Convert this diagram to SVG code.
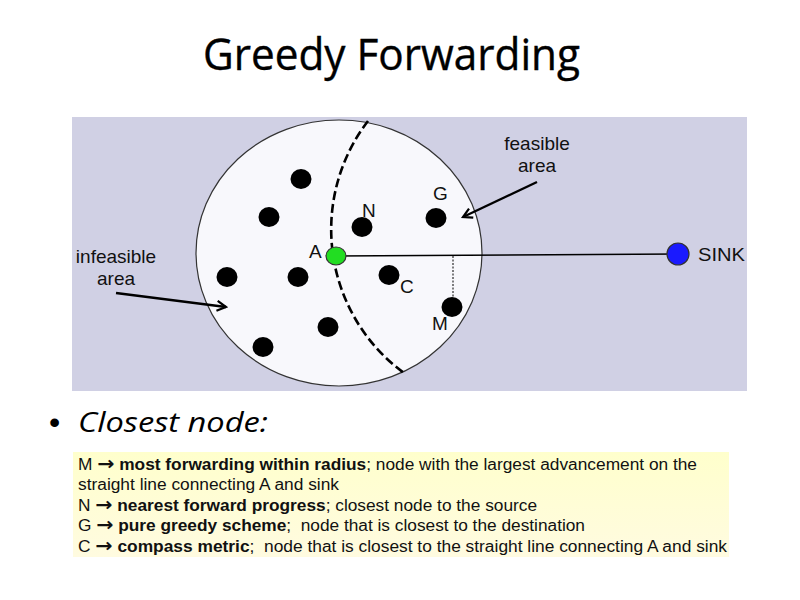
<svg xmlns="http://www.w3.org/2000/svg" width="800" height="600" viewBox="0 0 800 600">
<style>
.lbl{font-family:"Liberation Sans",Arial,sans-serif;font-size:19px;fill:#111}
.dot{fill:#000}
.leg{font-family:"Liberation Sans Narrow","Liberation Sans",Arial,sans-serif;font-size:16px;fill:#111}
.b{font-weight:bold}
.ar{font-family:"DejaVu Sans",sans-serif;font-weight:bold;font-size:19px}
</style>
<defs>
<marker id="vh" markerWidth="12" markerHeight="12" refX="10" refY="6" orient="auto" markerUnits="userSpaceOnUse">
<path d="M1,1 L10,6 L1,11" fill="none" stroke="#000" stroke-width="2.2"/>
</marker>
<linearGradient id="yg" x1="0" y1="0" x2="0" y2="1">
<stop offset="0" stop-color="#ffffcc"/>
<stop offset="1" stop-color="#fffbe0"/>
</linearGradient>
</defs>
<rect width="800" height="600" fill="#fff"/>
<text x="203" y="70" font-family="'Open Sans','Liberation Sans',sans-serif" font-size="44" fill="#000" stroke="#000" stroke-width="0.4" textLength="377" lengthAdjust="spacingAndGlyphs">Greedy Forwarding</text>

<g id="panel">
<rect x="72" y="117" width="675" height="274" fill="#d0d0e4"/>
<ellipse cx="339" cy="253" rx="143" ry="133" fill="#f8f8fc" stroke="#333" stroke-width="1.2"/>
<path d="M368,121 A178,178 0 0 0 404,373" fill="none" stroke="#000" stroke-width="2.6" stroke-dasharray="9,4"/>
</g>

<g id="connectors">
<line x1="336" y1="256" x2="678" y2="254" stroke="#000" stroke-width="1.6"/>
<line x1="453" y1="256" x2="453" y2="299" stroke="#000" stroke-width="1" stroke-dasharray="2,1.5"/>
<line x1="537" y1="182" x2="463" y2="217" stroke="#000" stroke-width="2.4" marker-end="url(#vh)"/>
<line x1="116" y1="293" x2="226" y2="307" stroke="#000" stroke-width="2.4" marker-end="url(#vh)"/>
</g>

<g id="nodes">
<ellipse class="dot" cx="301" cy="179" rx="10.5" ry="10"/>
<ellipse class="dot" cx="269" cy="217" rx="10.5" ry="10"/>
<ellipse class="dot" cx="227" cy="277" rx="10.5" ry="10"/>
<ellipse class="dot" cx="298" cy="277" rx="10.5" ry="10"/>
<ellipse class="dot" cx="328" cy="327" rx="10.5" ry="10"/>
<ellipse class="dot" cx="263" cy="347" rx="10.5" ry="10"/>
</g>
<g id="node-N"><ellipse class="dot" cx="362" cy="227" rx="10.5" ry="10"/><text class="lbl" x="362" y="217">N</text></g>
<g id="node-G"><ellipse class="dot" cx="436" cy="218" rx="10.5" ry="10"/><text class="lbl" x="433" y="200">G</text></g>
<g id="node-C"><ellipse class="dot" cx="389" cy="275" rx="10.5" ry="10"/><text class="lbl" x="400" y="293">C</text></g>
<g id="node-M"><ellipse class="dot" cx="452" cy="307" rx="10.5" ry="10"/><text class="lbl" x="432" y="330">M</text></g>
<g id="node-A"><ellipse cx="336" cy="256" rx="10" ry="9" fill="#22dd22" stroke="#333" stroke-width="1.2"/><text class="lbl" x="309" y="258">A</text></g>
<g id="node-SINK"><circle cx="678" cy="254" r="11" fill="#1a1aff" stroke="#333" stroke-width="1.2"/><text class="lbl" x="698" y="261" textLength="47" lengthAdjust="spacingAndGlyphs">SINK</text></g>

<g id="label-feasible">
<text class="lbl" x="537" y="150" text-anchor="middle" font-size="20">feasible</text>
<text class="lbl" x="537" y="172" text-anchor="middle" font-size="20">area</text>
</g>
<g id="label-infeasible">
<text class="lbl" x="116" y="263" text-anchor="middle" font-size="20">infeasible</text>
<text class="lbl" x="116" y="285" text-anchor="middle" font-size="20">area</text>
</g>

<g id="bullet">
<text x="49" y="433" font-family="'Liberation Sans',Arial,sans-serif" font-size="32" fill="#000">•</text>
<text x="78" y="432" font-family="'Open Sans','Liberation Sans',sans-serif" font-size="27" font-style="italic" fill="#000" textLength="190" lengthAdjust="spacingAndGlyphs">Closest node:</text>
</g>

<g id="legend">
<rect x="73" y="452" width="656" height="105" fill="url(#yg)"/>
<text class="leg" x="78" y="470" textLength="619" lengthAdjust="spacingAndGlyphs">M <tspan class="ar">→</tspan> <tspan class="b">most forwarding within radius</tspan>; node with the largest advancement on the</text>
<text class="leg" x="78" y="490" textLength="261" lengthAdjust="spacingAndGlyphs">straight line connecting A and sink</text>
<text class="leg" x="78" y="511" textLength="459" lengthAdjust="spacingAndGlyphs">N <tspan class="ar">→</tspan> <tspan class="b">nearest forward progress</tspan>; closest node to the source</text>
<text class="leg" x="78" y="531" textLength="507" lengthAdjust="spacingAndGlyphs" xml:space="preserve">G <tspan class="ar">→</tspan> <tspan class="b">pure greedy scheme</tspan>;  node that is closest to the destination</text>
<text class="leg" x="78" y="552" textLength="649" lengthAdjust="spacingAndGlyphs" xml:space="preserve">C <tspan class="ar">→</tspan> <tspan class="b">compass metric</tspan>;  node that is closest to the straight line connecting A and sink</text>
</g>
</svg>
